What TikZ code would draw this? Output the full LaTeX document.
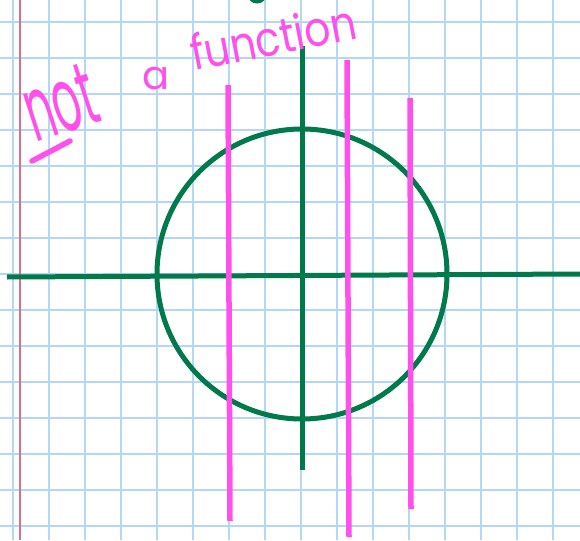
\documentclass[tikz,border=0pt]{standalone}
\usepackage{fontspec}
\newfontfamily\handfont{Poppins}
\definecolor{gridblue}{HTML}{B4D7F7}
\definecolor{marginred}{HTML}{D9708A}
\definecolor{axisgreen}{HTML}{00794B}
\definecolor{inkpink}{HTML}{FF50EC}
\tikzset{
  gridline/.style={gridblue, line width=1.8pt},
  marginline/.style={marginred, line width=1.2pt},
  greenstroke/.style={axisgreen, line width=5pt},
  pinkstroke/.style={inkpink, line width=5.5pt},
  handtext/.style={inkpink, inner sep=0pt},
}
\begin{document}
\begin{tikzpicture}[x=1pt,y=-1pt]
\useasboundingbox[fill=white] (0,0) rectangle (580,540);
% grid
\foreach \gx in {13,49,...,589} \draw[gridline] (\gx,0) -- (\gx,540);
\foreach \gy in {22,58,...,540} \draw[gridline] (0,\gy) -- (580,\gy);
% margin
\draw[marginline] (20,0) -- (20,540);
% green axes and circle
\draw[greenstroke] (7,277) -- (580,274);
\draw[greenstroke] (302,46) -- (302,470);
\draw[greenstroke] (302,274) circle [radius=145];
\draw[greenstroke] (250,-6) arc [start angle=180, end angle=0, radius=7];
% pink vertical lines
\draw[pinkstroke] (228,85) -- (230,521);
\draw[pinkstroke] (347,60) -- (349,537);
\draw[pinkstroke] (410,98) -- (411,509);
% text
\node[handtext, font=\handfont\fontsize{78}{78}\selectfont, rotate=18, anchor=base west] (nottext) at (35,143) {\scalebox{0.56}[1.15]{not}};
\draw[pinkstroke, line cap=round] (32,161) -- (70,141);
\node[handtext, font=\handfont\fontsize{40}{40}\selectfont, anchor=base west] (atext) at (142,90) {a};
\node[handtext, font=\handfont\fontsize{44}{44}\selectfont, rotate=11, anchor=base west] (functext) at (194,71) {\scalebox{0.93}[1.1]{function}};
\end{tikzpicture}
\end{document}
